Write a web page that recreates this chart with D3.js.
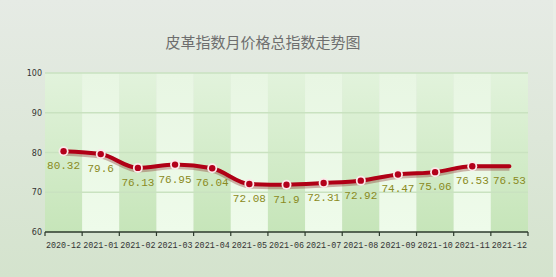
<!DOCTYPE html>
<html>
<head>
<meta charset="utf-8">
<script src="https://cdn.jsdelivr.net/npm/d3@7"></script>
<style>
  html, body { margin: 0; padding: 0; }
  svg { display: block; }
</style>
</head>
<body>
<script>
var months = ["2020-12", "2021-01", "2021-02", "2021-03", "2021-04", "2021-05", "2021-06",
              "2021-07", "2021-08", "2021-09", "2021-10", "2021-11", "2021-12"];
var values = [80.32, 79.6, 76.13, 76.95, 76.04, 72.08, 71.9, 72.31, 72.92, 74.47, 75.06, 76.53, 76.53];
var yTicks = [60, 70, 80, 90, 100];

var w = 556, h = 277;

var svg = d3.select("body")
    .append("svg")
    .attr("width", w)
    .attr("height", h);

var defs = svg.append("defs");

var bg = defs.append("linearGradient")
    .attr("id", "bg")
    .attr("x1", 0).attr("y1", 0).attr("x2", 0).attr("y2", 1);
bg.append("stop").attr("offset", "0%").attr("stop-color", "#e6ebe5");
bg.append("stop").attr("offset", "100%").attr("stop-color", "#d4e3cd");

var dark = defs.append("linearGradient")
    .attr("id", "bandDark")
    .attr("x1", 0).attr("y1", 0).attr("x2", 0).attr("y2", 1);
dark.append("stop").attr("offset", "0%").attr("stop-color", "#e2f3dc");
dark.append("stop").attr("offset", "100%").attr("stop-color", "#c6e5b9");

var light = defs.append("linearGradient")
    .attr("id", "bandLight")
    .attr("x1", 0).attr("y1", 0).attr("x2", 0).attr("y2", 1);
light.append("stop").attr("offset", "0%").attr("stop-color", "#e8f6e3");
light.append("stop").attr("offset", "100%").attr("stop-color", "#eefbea");

svg.append("rect")
    .attr("width", w)
    .attr("height", h)
    .attr("fill", "url(#bg)");

svg.append("rect")
    .attr("x", 553)
    .attr("width", 3)
    .attr("height", h)
    .attr("fill", "#e9eee7");

var x = d3.scaleBand()
    .domain(months)
    .range([45, 528]);

var y = d3.scaleLinear()
    .domain([60, 100])
    .range([232, 73]);

// alternating column bands
svg.selectAll(".band")
    .data(months)
    .enter()
    .append("rect")
    .attr("class", "band")
    .attr("x", function(d){ return x(d); })
    .attr("y", y(100))
    .attr("width", x.bandwidth())
    .attr("height", y(60) - y(100))
    .attr("fill", function(d, i){
        return i % 2 === 0 ? "url(#bandDark)" : "url(#bandLight)";
    });

// horizontal grid lines
svg.selectAll(".grid")
    .data(yTicks.slice(1))
    .enter()
    .append("line")
    .attr("class", "grid")
    .attr("x1", 45)
    .attr("x2", 528)
    .attr("y1", function(d){ return y(d); })
    .attr("y2", function(d){ return y(d); })
    .style("stroke", "#c9e2c0")
    .style("stroke-width", 1.5);

// y labels
svg.selectAll(".ylab")
    .data(yTicks)
    .enter()
    .append("text")
    .attr("class", "ylab")
    .attr("x", 42)
    .attr("y", function(d){ return y(d) + 3; })
    .attr("text-anchor", "end")
    .style("font-family", "'DejaVu Sans', sans-serif")
    .style("font-size", "8px")
    .style("fill", "#333")
    .text(function(d){ return d; });

// x axis line and ticks at band edges
svg.append("line")
    .attr("x1", 45)
    .attr("x2", 528)
    .attr("y1", y(60))
    .attr("y2", y(60))
    .style("stroke", "#2d3a2d")
    .style("stroke-width", 1.5);

svg.selectAll(".xtick")
    .data(d3.range(months.length + 1))
    .enter()
    .append("line")
    .attr("class", "xtick")
    .attr("x1", function(i){ return 45 + i * x.step(); })
    .attr("x2", function(i){ return 45 + i * x.step(); })
    .attr("y1", y(60))
    .attr("y2", y(60) + 4)
    .style("stroke", "#2d3a2d")
    .style("stroke-width", 1.2);

svg.selectAll(".xlab")
    .data(months)
    .enter()
    .append("text")
    .attr("class", "xlab")
    .attr("x", function(d){ return x(d) + x.bandwidth() / 2; })
    .attr("y", 248)
    .attr("text-anchor", "middle")
    .style("font-family", "'Liberation Mono', monospace")
    .style("font-size", "8.4px")
    .style("fill", "#333")
    .text(function(d){ return d; });

// line
var line = d3.line()
    .x(function(d, i){ return x(months[i]) + x.bandwidth() / 2; })
    .y(function(d){ return y(d); })
    .curve(d3.curveMonotoneX);

svg.append("path")
    .datum(values)
    .attr("d", line)
    .style("fill", "none")
    .style("stroke", "#7a0a0a")
    .style("stroke-opacity", 0.3)
    .style("stroke-width", 6)
    .attr("transform", "translate(0,1.5)");

svg.append("path")
    .datum(values)
    .attr("d", line)
    .style("fill", "none")
    .style("stroke", "#b00016")
    .style("stroke-width", 4)
    .style("stroke-linecap", "round");

var pts = values.slice(0, values.length - 1);

svg.selectAll(".ring")
    .data(pts)
    .enter()
    .append("circle")
    .attr("class", "ring")
    .attr("cx", function(d, i){ return x(months[i]) + x.bandwidth() / 2; })
    .attr("cy", function(d){ return y(d); })
    .attr("r", 5)
    .style("fill", "#fbe9ea");

svg.selectAll(".dot")
    .data(pts)
    .enter()
    .append("circle")
    .attr("class", "dot")
    .attr("cx", function(d, i){ return x(months[i]) + x.bandwidth() / 2; })
    .attr("cy", function(d){ return y(d); })
    .attr("r", 3.2)
    .style("fill", "#b3001b");

// value labels
svg.selectAll(".vlab")
    .data(values)
    .enter()
    .append("text")
    .attr("class", "vlab")
    .attr("x", function(d, i){ return x(months[i]) + x.bandwidth() / 2; })
    .attr("y", function(d){ return y(d) + 18; })
    .attr("text-anchor", "middle")
    .style("font-family", "'Liberation Mono', monospace")
    .style("font-size", "11px")
    .style("fill", "#8a8a22")
    .text(function(d){ return d; });

// title
svg.append("text")
    .attr("x", 263)
    .attr("y", 48)
    .attr("text-anchor", "middle")
    .style("font-family", "'Noto Sans CJK SC', sans-serif")
    .style("font-size", "15px")
    .style("fill", "#6e6e6e")
    .text("皮革指数月价格总指数走势图");
</script>
</body>
</html>
